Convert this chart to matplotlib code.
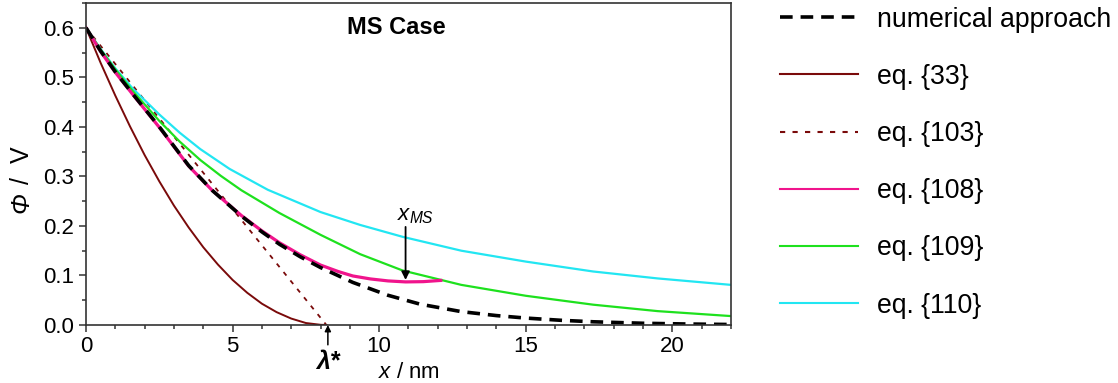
# Potential profiles for the MS case: numerical solution vs. approximations
import matplotlib.pyplot as plt
from matplotlib.ticker import MultipleLocator

plt.rcParams['font.family'] = ['Liberation Sans', 'DejaVu Sans']
plt.rcParams['mathtext.fontset'] = 'custom'
plt.rcParams['mathtext.rm'] = 'Liberation Sans'
plt.rcParams['mathtext.it'] = 'Liberation Sans:italic'
plt.rcParams['mathtext.bf'] = 'Liberation Sans:bold'

# numerical approach (black dashed)
x_num = [0, 0.5, 1.0, 1.6, 2.5, 3.5, 4.3, 5.3, 6.0, 6.6, 7.3, 8.0, 9.1, 10.3,
         11.4, 12.8, 14.0, 15.0, 16.2, 17.3, 19.0, 20.5, 22.0]
phi_num = [0.600, 0.553, 0.511, 0.466, 0.400, 0.322, 0.272, 0.220, 0.188, 0.163,
           0.138, 0.116, 0.086, 0.060, 0.042, 0.027, 0.019, 0.014, 0.0095,
           0.0065, 0.0035, 0.002, 0.001]

# eq. {33} (parabola reaching zero at lambda*)
x_33 = [0, 0.5, 1.0, 1.5, 2.0, 2.5, 3.0, 3.5, 4.0, 4.5, 5.0, 5.5, 6.0, 6.5,
        7.0, 7.5, 8.0, 8.2]
phi_33 = [0.600, 0.529, 0.463, 0.401, 0.343, 0.290, 0.241, 0.197, 0.157, 0.122,
          0.091, 0.065, 0.043, 0.026, 0.013, 0.004, 0.0004, 0.0]

# eq. {103} (straight line)
x_103 = [0, 4.1, 8.2]
phi_103 = [0.600, 0.300, 0.0]

# eq. {108}
x_108 = [0, 0.5, 1.0, 1.6, 2.5, 3.5, 4.3, 5.3, 6.0, 6.6, 7.3, 8.0, 8.6, 9.1,
         9.7, 10.3, 10.9, 11.5, 12.1]
phi_108 = [0.600, 0.552, 0.510, 0.465, 0.399, 0.321, 0.272, 0.221, 0.190, 0.166,
           0.142, 0.121, 0.108, 0.099, 0.093, 0.089, 0.087, 0.0875, 0.090]

# eq. {109}
x_109 = [0, 0.5, 1.0, 1.6, 2.5, 3.2, 3.9, 4.6, 5.3, 6.6, 8.0, 9.35, 10.8,
         12.8, 15.0, 17.3, 19.5, 22.0]
phi_109 = [0.600, 0.556, 0.516, 0.472, 0.412, 0.370, 0.333, 0.301, 0.272, 0.226,
           0.182, 0.143, 0.110, 0.081, 0.059, 0.041, 0.028, 0.018]

# eq. {110}
x_110 = [0, 0.5, 1.0, 1.6, 2.5, 3.2, 3.9, 4.9, 6.2, 8.0, 9.35, 10.8, 12.8,
         15.0, 17.3, 19.5, 22.0]
phi_110 = [0.600, 0.557, 0.518, 0.477, 0.425, 0.388, 0.355, 0.315, 0.273, 0.228,
           0.202, 0.178, 0.150, 0.128, 0.108, 0.094, 0.081]

lambda_star = 8.25
x_ms = 10.9
phi_ms = 0.087

fig = plt.figure(figsize=(11.18, 3.83), dpi=100)
ax = fig.add_axes([86 / 1118, 1 - 325 / 383, (731 - 86) / 1118, (325 - 3) / 383])

ax.plot(x_33, phi_33, color='#7A0A0A', lw=1.4, label='eq. {33}')
ax.plot(x_103, phi_103, color='#7A0A0A', lw=1.3, dashes=(2.5, 3.5), label='eq. {103}')
ax.plot(x_110, phi_110, color='#22E6F2', lw=1.6, label='eq. {110}')
ax.plot(x_109, phi_109, color='#1EE11E', lw=1.6, label='eq. {109}')
ax.plot(x_108, phi_108, color='#F0148C', lw=2.3, label='eq. {108}')
ax.plot(x_num, phi_num, color='black', lw=2.6, dashes=(3.5, 2.2),
        label='numerical approach')

ax.set_xlim(0, 22)
ax.set_ylim(0, 0.65)
ax.xaxis.set_major_locator(MultipleLocator(5))
ax.xaxis.set_minor_locator(MultipleLocator(1))
ax.yaxis.set_major_locator(MultipleLocator(0.1))
ax.yaxis.set_minor_locator(MultipleLocator(0.05))
ax.yaxis.set_major_formatter(plt.FormatStrFormatter('%.1f'))
ax.tick_params(which='both', direction='out', top=False, right=False,
               labelsize=16, color='#333333', width=1.1)
ax.tick_params(which='major', length=5)
ax.tick_params(which='minor', length=3)
ax.tick_params(axis='x', pad=3)
for sp in ax.spines.values():
    sp.set_linewidth(1.2)
    sp.set_color('#333333')

# y label: italic Phi, upright "/ V"
ax.text(-0.1, (325 - 203) / 322, 'Φ', fontsize=18, style='italic', rotation=90,
        ha='center', va='center', transform=ax.transAxes)
ax.text(-0.1, (325 - 165) / 322, '/  V', fontsize=18, rotation=90,
        ha='center', va='center', transform=ax.transAxes)

ax.set_xlabel(r'$x$ / nm', fontsize=16)
ax.xaxis.set_label_coords((409 - 86) / 645, -0.115)

ax.text(10.6, 0.60, 'MS Case', fontsize=17, fontweight='bold', ha='center', va='center')

# x_MS marker
ax.annotate('', xy=(x_ms, phi_ms + 0.004), xytext=(x_ms, 0.198),
            arrowprops=dict(arrowstyle='-|>', color='black', lw=1.3,
                            mutation_scale=12, shrinkA=0, shrinkB=0))
ax.text(x_ms + 0.35, 0.222, r'$x_{MS}$', fontsize=16, ha='center', va='center')

# lambda* marker below the axis
ax.annotate('', xy=(lambda_star, 0.0), xytext=(lambda_star, -0.04),
            arrowprops=dict(arrowstyle='-|>', color='black', lw=1.1,
                            mutation_scale=9, shrinkA=0, shrinkB=0),
            annotation_clip=False)
ax.text(lambda_star, -0.075, 'λ*', fontsize=18, fontweight='bold', style='italic',
        ha='center', va='center', clip_on=False)

handles, labels = ax.get_legend_handles_labels()
order = ['numerical approach', 'eq. {33}', 'eq. {103}', 'eq. {108}', 'eq. {109}', 'eq. {110}']
hmap = dict(zip(labels, handles))
leg = fig.legend([hmap[k] for k in order], order, loc='upper left',
                 bbox_to_anchor=(780 / 1118, 0.983), frameon=False, fontsize=19.2,
                 borderpad=0, borderaxespad=0, handlelength=2.92,
                 handletextpad=0.72, labelspacing=1.17)
for line in leg.get_lines():
    if line.get_linewidth() < 2.5:
        line.set_linewidth(1.5)

fig.savefig('out.png', dpi=100)
